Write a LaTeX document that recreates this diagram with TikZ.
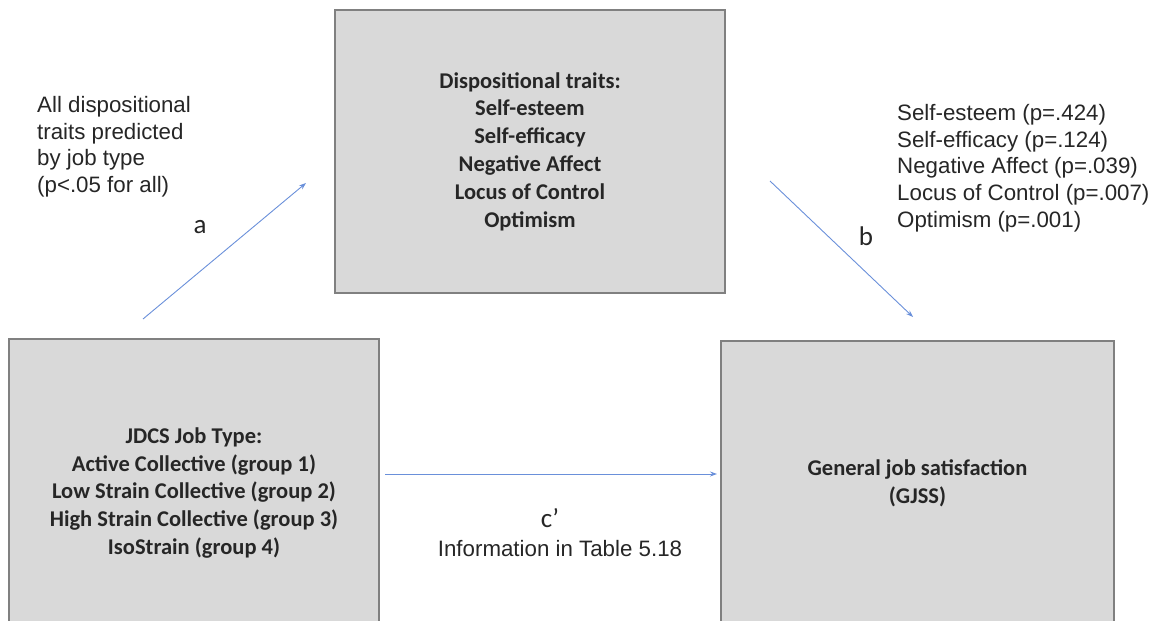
\documentclass[tikz,border=0pt]{standalone}
\usepackage{fontspec}
\setmainfont{Liberation Sans}
\newfontfamily\calib{Carlito}
\usetikzlibrary{arrows.meta}
\definecolor{boxfill}{HTML}{D9D9D9}
\definecolor{boxline}{HTML}{808080}
\definecolor{arr}{HTML}{6A90DA}
\definecolor{txt}{HTML}{262626}
\begin{document}
\begin{tikzpicture}[x=1pt,y=-1pt,
  boxnode/.style={draw=boxline,line width=1.5pt,fill=boxfill,inner sep=0pt,
    text=txt,align=center,font=\calib\bfseries\fontsize{22.5}{27.8}\selectfont},
  note/.style={text=txt,font=\fontsize{22.3}{26.8}\selectfont,inner sep=0pt},
  lbl/.style={text=txt,font=\calib\fontsize{27}{30}\selectfont,inner sep=0pt},
  conn/.style={draw=arr,line width=0.9pt,-{Stealth[length=7pt,width=5pt]}}]
\useasboundingbox (0,0) rectangle (1157,621);
\node[boxnode,minimum width=390pt,minimum height=283pt] (traits) at (530,151.5)
  {Dispositional traits:\\Self-esteem\\Self-efficacy\\Negative Affect\\Locus of Control\\Optimism};
\node[boxnode,minimum width=370pt,minimum height=308pt] (job) at (194,493)
  {JDCS Job Type:\\Active Collective (group 1)\\Low Strain Collective (group 2)\\High Strain Collective (group 3)\\IsoStrain (group 4)};
\node[boxnode,minimum width=393pt,minimum height=284pt] (gjss) at (917.5,483)
  {General job satisfaction\\(GJSS)};
\node[note,anchor=north west,align=left] (anote) at (37,96)
  {All dispositional\\traits predicted\\by job type\\(p<.05 for all)};
\node[note,anchor=north west,align=left] (bnote) at (897,104)
  {Self-esteem (p=.424)\\Self-efficacy (p=.124)\\Negative Affect (p=.039)\\Locus of Control (p=.007)\\Optimism (p=.001)};
\node[lbl] (la) at (200,227) {a};
\node[lbl] (lb) at (866,236) {b};
\node[lbl] (lc) at (550,518) {c\textquoteright};
\node[note] (cnote) at (560,549) {Information in Table 5.18};
\coordinate (a0) at (143,319);
\coordinate (a1) at (306,183);
\coordinate (b0) at (770,181);
\coordinate (b1) at (913,317);
\coordinate (c0) at (385,474);
\coordinate (c1) at (717,474);
\draw[conn] (a0) -- (a1);
\draw[conn] (b0) -- (b1);
\draw[conn] (c0) -- (c1);
\end{tikzpicture}
\end{document}
